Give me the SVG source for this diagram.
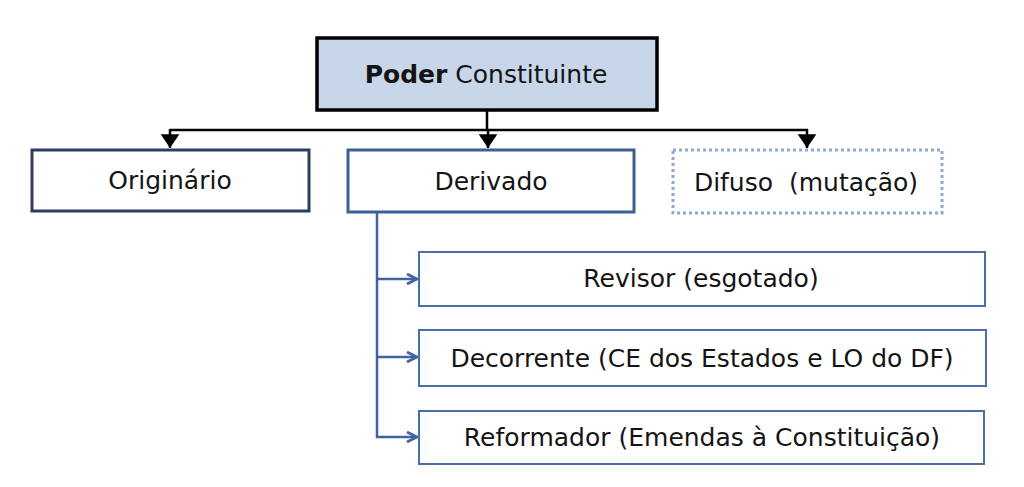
<svg xmlns="http://www.w3.org/2000/svg" width="1024" height="487" viewBox="0 0 1024 487">
  <style>
    text { font-family: "DejaVu Sans", Verdana, sans-serif; font-size: 25px; fill: #141414; text-anchor: middle; }
    .top { fill: #c8d6ea; stroke: #000; stroke-width: 3.5; }
    .box1 { fill: #fff; stroke: #2b3f62; stroke-width: 3; }
    .box2 { fill: #fff; stroke: #3d5f95; stroke-width: 3; }
    .dot { fill: #fff; stroke: #8eaad2; stroke-width: 3; stroke-dasharray: 3 3; }
    .sub { fill: #fff; stroke: #4a6ea6; stroke-width: 2; }
    .blk { fill: none; stroke: #000; stroke-width: 2.5; }
    .blu { fill: none; stroke: #3f64a0; stroke-width: 2.5; }
  </style>
  <defs>
    <marker id="blkArrow" viewBox="0 0 10 10" refX="10" refY="5" markerWidth="5.5" markerHeight="7.5" markerUnits="strokeWidth" orient="auto" preserveAspectRatio="none">
      <path d="M0,0 L10,5 L0,10 Z" fill="#000"/>
    </marker>
    <marker id="bluArrow" viewBox="0 0 10 10" refX="9" refY="5" markerWidth="5" markerHeight="5" markerUnits="strokeWidth" orient="auto">
      <path d="M1,1 L9,5 L1,9" fill="none" stroke="#3f64a0" stroke-width="2.2"/>
    </marker>
  </defs>

  <g id="connectors">
    <path class="blk" d="M487,110 V130"/>
    <path class="blk" d="M170,130 H808"/>
    <path class="blk" d="M170,129 V148" marker-end="url(#blkArrow)"/>
    <path class="blk" d="M488,129 V148" marker-end="url(#blkArrow)"/>
    <path class="blk" d="M807,129 V148" marker-end="url(#blkArrow)"/>
    <path class="blu" d="M377,212 V437 H417" marker-end="url(#bluArrow)"/>
    <path class="blu" d="M377,279 H417" marker-end="url(#bluArrow)"/>
    <path class="blu" d="M377,357 H417" marker-end="url(#bluArrow)"/>
  </g>

  <g id="poder">
    <rect class="top" x="317" y="38" width="340" height="72"/>
    <text x="486" y="83"><tspan font-weight="bold">Poder</tspan> Constituinte</text>
  </g>

  <g id="originario">
    <rect class="box1" x="32" y="150" width="277" height="61"/>
    <text x="170" y="189">Originário</text>
  </g>

  <g id="derivado">
    <rect class="box2" x="348" y="150" width="286" height="62"/>
    <text x="491" y="190">Derivado</text>
  </g>

  <g id="difuso">
    <rect class="dot" x="673" y="150" width="269" height="63"/>
    <text x="806" y="191" xml:space="preserve">Difuso  (mutação)</text>
  </g>

  <g id="revisor">
    <rect class="sub" x="419" y="252" width="566" height="54"/>
    <text x="701" y="287">Revisor (esgotado)</text>
  </g>

  <g id="decorrente">
    <rect class="sub" x="419" y="330" width="567" height="56"/>
    <text x="702" y="367">Decorrente (CE dos Estados e LO do DF)</text>
  </g>

  <g id="reformador">
    <rect class="sub" x="419" y="411" width="565" height="53"/>
    <text x="702" y="446">Reformador (Emendas à Constituição)</text>
  </g>
</svg>
